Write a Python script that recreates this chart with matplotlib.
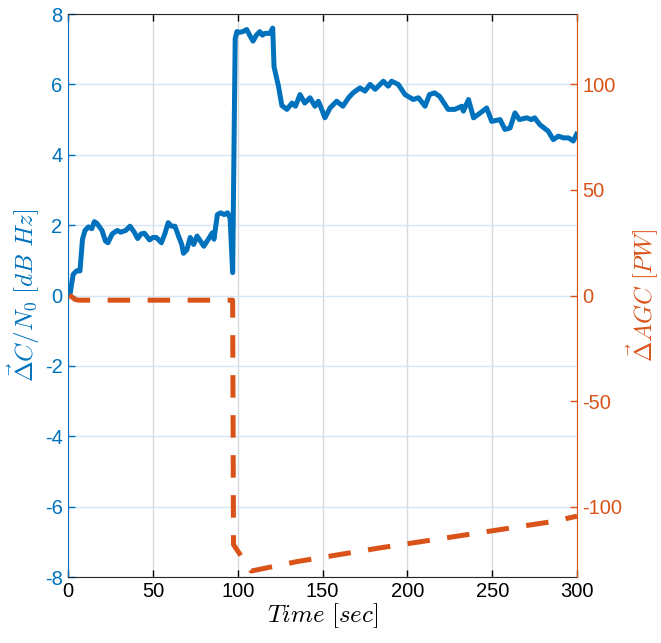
import matplotlib
matplotlib.use('Agg')
import matplotlib.pyplot as plt
import numpy as np

# blue series: delta C/N0 [dB Hz]
t_cn0 = [1, 3, 5, 7, 8.5, 10, 12, 14, 15.5, 17, 20, 22, 23.5, 26, 29, 31, 34, 36.5,
         39, 41, 43, 45, 48, 50, 52, 55, 57, 59, 61, 63, 65, 67, 68, 70, 72, 74, 76,
         78, 80, 82, 85, 86, 88, 90, 92, 94, 95.5, 97, 98.5, 99.5, 101, 103, 105.3,
         107, 109, 111, 113, 114.5, 116, 119, 120.6, 121.4, 124, 126, 129, 132, 134,
         136.7, 139.5, 142.6, 145.5, 147.5, 149.5, 151.4, 154.4, 158.3, 162, 165.3,
         168, 172, 175, 178, 181, 185.8, 188.7, 190.7, 194.6, 198.6, 203.5, 206.5,
         210.4, 213, 216, 219, 224, 228, 232, 233, 236, 239, 243, 246.7, 249.7,
         254.6, 257.5, 260.5, 263.4, 266, 270.3, 273, 275, 278, 283, 286, 289, 292,
         295, 297.8, 299.7]
cn0 = [0.0, 0.6, 0.7, 0.7, 1.6, 1.85, 1.95, 1.9, 2.1, 2.05, 1.85, 1.55, 1.5, 1.75,
       1.85, 1.8, 1.85, 1.97, 1.8, 1.62, 1.75, 1.77, 1.58, 1.65, 1.65, 1.5, 1.75,
       2.07, 1.97, 1.97, 1.7, 1.45, 1.2, 1.3, 1.65, 1.45, 1.69, 1.55, 1.4, 1.55,
       1.78, 1.6, 2.3, 2.35, 2.3, 2.35, 2.2, 0.65, 7.3, 7.5, 7.48, 7.5, 7.56, 7.4,
       7.23, 7.4, 7.5, 7.4, 7.45, 7.45, 7.6, 6.5, 5.95, 5.4, 5.29, 5.47, 5.38, 5.71,
       5.47, 5.62, 5.38, 5.52, 5.29, 5.05, 5.33, 5.52, 5.38, 5.62, 5.76, 5.9, 5.81,
       6.0, 5.86, 6.09, 5.95, 6.09, 6.0, 5.71, 5.57, 5.62, 5.38, 5.71, 5.76, 5.66,
       5.29, 5.29, 5.38, 5.24, 5.57, 5.05, 5.19, 5.33, 4.95, 5.0, 4.72, 4.76, 5.19,
       5.0, 5.05, 5.0, 5.05, 4.86, 4.67, 4.43, 4.53, 4.48, 4.48, 4.39, 4.58]

# orange series: delta AGC [PW]
t_agc = [0.5, 2, 4, 6, 97, 97.5, 100, 108, 135, 184, 221, 286, 300]
agc = [0, -0.5, -1.8, -2.2, -2.2, -118, -121, -130.5, -126, -119.5, -115, -107, -104.5]

blue = '#0072BD'
orange = '#D95319'

plt.rcParams['font.family'] = ['Liberation Sans', 'DejaVu Sans']
plt.rcParams['mathtext.fontset'] = 'cm'
plt.rcParams['axes.unicode_minus'] = False

fig = plt.figure(figsize=(6.61, 6.43), dpi=100)
ax = fig.add_axes([0.103, 0.1026, 0.770, 0.8756])
ax2 = ax.twinx()

ax.plot(t_cn0, cn0, color=blue, lw=3.6, solid_joinstyle='round', zorder=3)
ax2.plot(t_agc, agc, color=orange, lw=3.6, dashes=(4.5, 3.5), zorder=3)

ax.set_xlim(0, 300)
ax.set_ylim(-8, 8)
ax2.set_ylim(-133.33, 133.33)
ax.set_xticks(np.arange(0, 301, 50))
ax.set_yticks(np.arange(-8, 9, 2))
ax2.set_yticks([-100, -50, 0, 50, 100])

ax.xaxis.grid(True, color='#d5d8dc', lw=1)
ax.yaxis.grid(True, color='#d6e6f4', lw=1)
ax.set_axisbelow(True)

ax.tick_params(axis='x', direction='in', top=True, colors='black', labelsize=14.5, length=5, width=1)
ax.tick_params(axis='y', direction='in', colors=blue, labelsize=14.5, length=5, width=1, pad=4)
ax2.tick_params(axis='y', direction='in', colors=orange, labelsize=14.5, length=5, width=1, pad=4)

ax.spines['left'].set_color(blue)
ax.spines['right'].set_visible(False)
ax.spines['top'].set_color('#262626')
ax.spines['bottom'].set_color('#262626')
ax2.spines['right'].set_color(orange)
ax2.spines['left'].set_visible(False)
ax2.spines['top'].set_visible(False)
ax2.spines['bottom'].set_visible(False)

ax.set_xlabel(r'$Time\ [sec]$', fontsize=18, labelpad=0)
ax.set_ylabel(r'$\vec{\Delta} C/N_0\ [dB\ Hz]$', fontsize=18, color=blue, labelpad=2)
ax2.set_ylabel(r'$\vec{\Delta} AGC\ [PW]$', fontsize=17.5, color=orange, labelpad=1)

fig.savefig('out.png', dpi=100)
